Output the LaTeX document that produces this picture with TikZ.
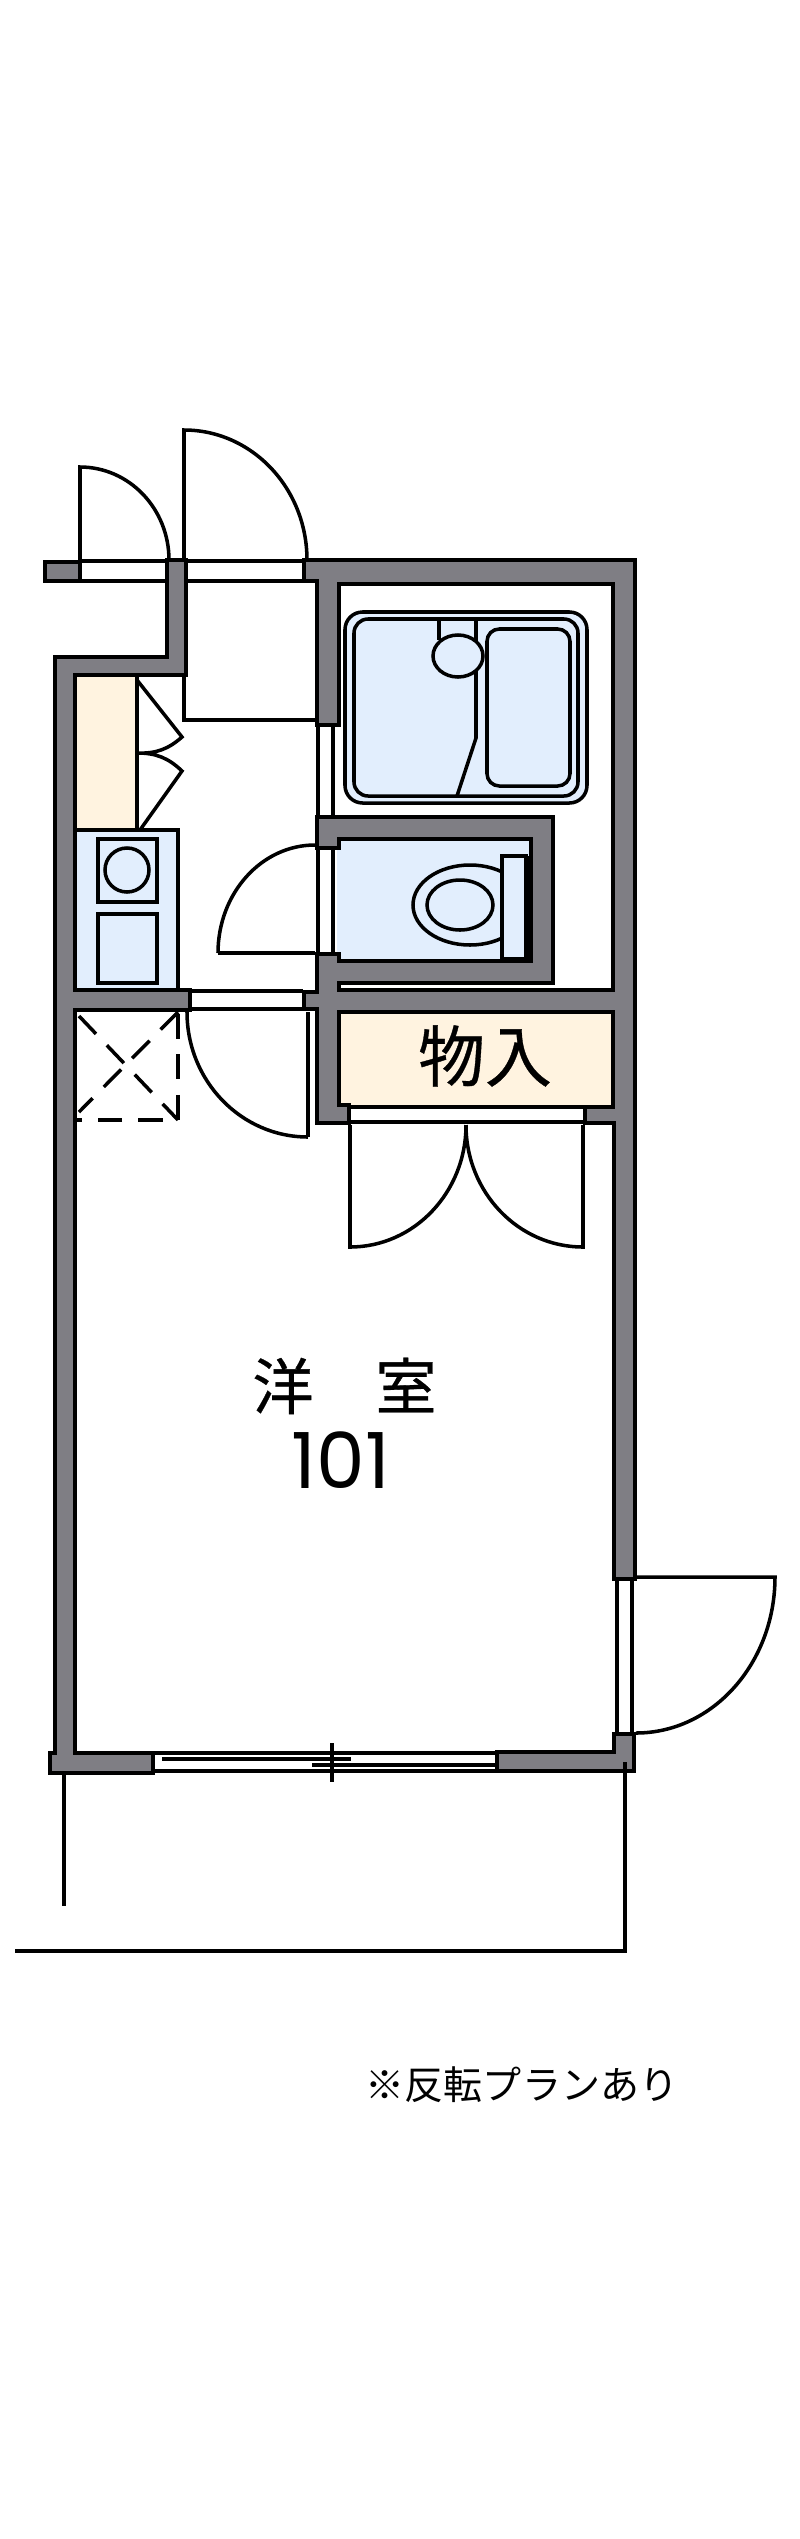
\documentclass[tikz,border=0pt]{standalone}
\usepackage{fontspec}
\usepackage{tikz}
\newfontfamily\cjkfont{Noto Sans CJK JP}
\newfontfamily\cjkheavy[FakeBold=0.5]{Noto Sans CJK JP}
\setmainfont{Poppins}
\definecolor{wallgray}{RGB}{127,126,132}
\definecolor{wetblue}{RGB}{226,238,253}
\definecolor{closetcream}{RGB}{255,243,224}
\tikzset{
  wall/.style={draw=black,fill=wallgray,line width=1.4pt,line join=miter},
  thin line/.style={draw=black,line width=1pt},
  sash/.style={draw=black,line width=1.05pt},
  dashmark/.style={draw=black,line width=1pt,dash pattern=on 7pt off 4.5pt},
  wet/.style={fill=wetblue},
  closet/.style={fill=closetcream}
}
\begin{document}
\begin{tikzpicture}[x=0.01cm,y=-0.01cm]
	\useasboundingbox (0,0) rectangle (800,2539);
	% room fills
	\fill[closet] (75,677) rectangle (137,830);
	\fill[closet] (337,1010) rectangle (615,1105);
	\fill[wet] (77,830) rectangle (178,988);
	\fill[wet] (337,837) rectangle (533,963);
	% bath
	\draw[thin line,wet,rounded corners=5pt] (345,612) rectangle (587,803);
	\draw[thin line,rounded corners=4pt] (354,619) rectangle (578,796);
	\draw[thin line,rounded corners=3.5pt] (487,629) rectangle (570,786);
	\draw[thin line] (439,619) -- (439,640);
	\draw[thin line] (476,619) -- (476,738) -- (457,796);
	\draw[thin line,wet] (458,656) ellipse (25 and 21);
	% toilet
	\begin{scope}
		\clip (400,850) rectangle (502,960);
		\draw[thin line] (470,905) ellipse (57 and 40);
	\end{scope}
	\draw[thin line] (460,905) ellipse (33 and 25);
	\fill (526,856) rectangle (533,963);
	\draw[thin line,wet] (502,856) rectangle (526,959);
	% washer and sink
	\draw[thin line] (77,830) -- (178,830) -- (178,988);
	\draw[thin line] (98,839) rectangle (157,902);
	\draw[thin line] (127,870) circle (22);
	\draw[thin line] (98,914) rectangle (157,983);
	% folding doors of closet
	\draw[thin line] (137,677) -- (137,830);
	\draw[thin line] (137,680) -- (182,737) to[bend left=22] (137,753) to[bend left=22] (182,771) -- (140,830);
	% entry step
	\draw[thin line] (184,677) -- (184,720) -- (315,720);
	% washroom door
	\draw[thin line] (218,953) -- (315,953);
	\draw[thin line] (218,953) arc (180:270:97 and 108);
	% dashed closet
	\draw[dashmark] (178,1014) -- (178,1120) -- (77,1120);
	\draw[dashmark] (79,1016) -- (178,1120);
	\draw[dashmark] (178,1012) -- (79,1112);
	% room door
	\draw[thin line] (308,1012) -- (308,1137);
	\draw[thin line] (187,1012) arc (180:90:121 and 125);
	% outside doors
	\draw[thin line] (80,560) -- (80,467) arc (-90:0:89 and 93);
	\draw[thin line] (184,560) -- (184,430) arc (-90:0:123 and 130);
	% closet doors
	\draw[thin line] (350,1125) -- (350,1247) arc (90:0:116 and 122);
	\draw[thin line] (583,1125) -- (583,1247) arc (90:180:117 and 122);
	% balcony door
	\draw[thin line] (636,1577) -- (775,1577) arc (0:90:139 and 156);
	% glazing
	\draw[sash] (82,561) -- (165,561) (82,581) -- (165,581);
	\draw[sash] (188,561) -- (302,561) (188,581) -- (302,581);
	\draw[sash] (318,727) -- (318,815) (333,727) -- (333,815);
	\draw[sash] (318,850) -- (318,952) (333,850) -- (333,952);
	\draw[sash] (192,991) -- (303,991) (192,1009) -- (303,1009);
	\draw[sash] (348,1107) -- (583,1107) (348,1122) -- (583,1122);
	\draw[sash] (617,1581) -- (617,1732) (632,1581) -- (632,1732);
	\draw[sash] (155,1753) -- (495,1753) (155,1771) -- (495,1771);
	\draw[sash] (162,1759) -- (351,1759);
	\draw[sash] (312,1765) -- (495,1765);
	\draw[sash] (332,1743) -- (332,1782);
	% walls
	\draw[wall] (45,562) rectangle (80,581);
	\draw[wall] (167,560) -- (186,560) -- (186,675) -- (75,675) -- (75,990) -- (190,990) -- (190,1010) -- (75,1010)
		-- (75,1753) -- (153,1753) -- (153,1773) -- (50,1773) -- (50,1753) -- (55,1753) -- (55,664) -- (55,657) -- (167,657) -- cycle;
	\draw[wall] (304,560) -- (635,560) -- (635,1579) -- (614,1579) -- (614,1123) -- (585,1123) -- (585,1107) -- (613,1107)
		-- (613,1012) -- (339,1012) -- (339,1105) -- (349,1105) -- (349,1123) -- (317,1123) -- (317,1009) -- (304,1009) -- (304,992)
		-- (317,992) -- (317,954) -- (339,954) -- (339,961) -- (531,961) -- (531,839) -- (339,839) -- (339,848) -- (317,848) -- (317,817)
		-- (553,817) -- (553,983) -- (339,983) -- (339,990) -- (613,990) -- (613,584) -- (339,584) -- (339,725) -- (317,725) -- (317,581)
		-- (304,581) -- cycle;
	\draw[wall] (497,1752) -- (614,1752) -- (614,1734) -- (634,1734) -- (634,1771) -- (497,1771) -- cycle;
	% site lines
	\draw[thin line] (64,1775) -- (64,1906);
	\draw[thin line] (15,1951) -- (625,1951) -- (625,1762);
	% labels
	\node[inner sep=0pt,font=\cjkheavy\fontsize{19pt}{20pt}\selectfont] (closetlabel) at (485,1056) {物入};
	\node[inner sep=0pt,font=\cjkheavy\fontsize{17.4pt}{20pt}\selectfont] (westernlabel) at (283,1386) {洋};
	\node[inner sep=0pt,font=\cjkheavy\fontsize{17.4pt}{20pt}\selectfont] (roomlabel) at (406,1385) {室};
	\node[inner sep=0pt,font=\fontsize{22pt}{24pt}\selectfont] (numberlabel) at (341,1460) {101};
	\node[inner sep=0pt,font=\cjkfont\fontsize{11.1pt}{13pt}\selectfont] (planlabel) at (522,2085) {※反転プランあり};
\end{tikzpicture}
\end{document}
